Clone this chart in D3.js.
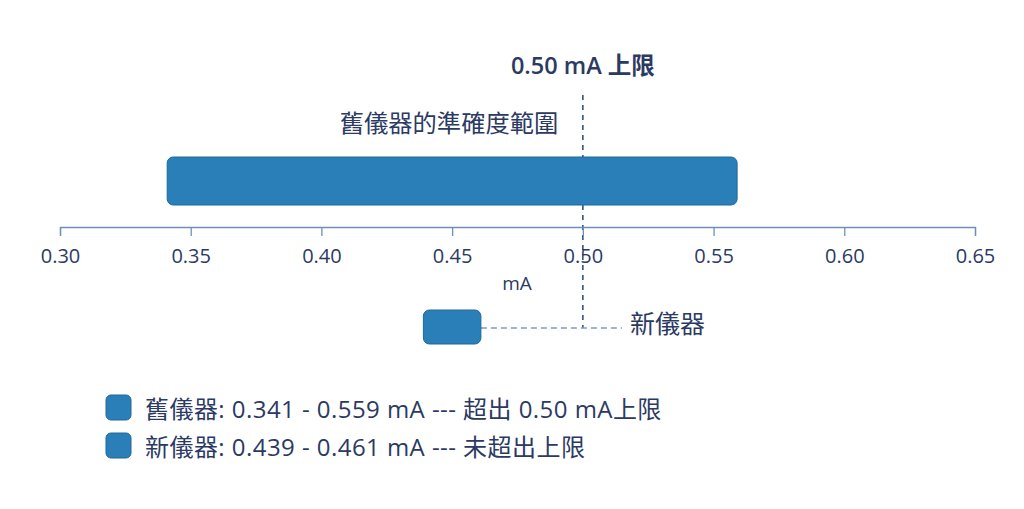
<!DOCTYPE html>
<html>
<head>
<meta charset="utf-8">
<script src="https://cdn.jsdelivr.net/npm/d3@7"></script>
<style>
  body { margin: 0; background: #fff; }
  text { font-family: "Open Sans", "Noto Sans CJK TC", sans-serif; }
</style>
</head>
<body>
<svg id="chart" width="1024" height="509"></svg>
<script>
// data
const instruments = ["舊儀器", "新儀器"];
const lows = [0.341, 0.439];
const highs = [0.559, 0.461];
const limit = 0.5;
const tickValues = [0.30, 0.35, 0.40, 0.45, 0.50, 0.55, 0.60, 0.65];
const legendLabels = [
  "舊儀器: 0.341 - 0.559 mA --- 超出 0.50 mA上限",
  "新儀器: 0.439 - 0.461 mA --- 未超出上限"
];

const ink = "#2b3a63";
const axisColor = "#6f8fb8";
const barFill = "#2a7fb8";
const barStroke = "#1f6899";

const svg = d3.select("#chart");

const x = d3.scaleLinear().domain([0.30, 0.65]).range([60, 975]);
const axisY = 227;

// bars: old one above the axis, new one below
const barRows = [
  { y: 157, h: 48 },
  { y: 310, h: 34 }
];

// limit line
svg.append("line")
  .attr("x1", x(limit)).attr("x2", x(limit))
  .attr("y1", 95).attr("y2", 328)
  .attr("stroke", "#2f5680")
  .attr("stroke-width", 1.6)
  .attr("stroke-dasharray", "5,5");

// axis
const axisG = svg.append("g")
  .attr("transform", `translate(0,${axisY})`)
  .call(d3.axisBottom(x).tickValues(tickValues).tickFormat(d3.format(".2f")).tickSize(9).tickSizeOuter(9));
axisG.select(".domain").attr("stroke", axisColor).attr("stroke-width", 1.3);
axisG.selectAll(".tick line").attr("stroke", axisColor).attr("stroke-width", 1.3);
axisG.selectAll(".tick text")
  .attr("fill", ink)
  .attr("y", 22)
  .style("font-size", "20px");

svg.append("text")
  .attr("x", 517).attr("y", 290)
  .attr("text-anchor", "middle")
  .attr("fill", ink)
  .style("font-size", "19px")
  .text("mA");

// connector from new bar to its label
svg.append("line")
  .attr("x1", x(highs[1])).attr("x2", 622)
  .attr("y1", 328).attr("y2", 328)
  .attr("stroke", "#7d9cc4")
  .attr("stroke-width", 1.3)
  .attr("stroke-dasharray", "6,4");

// bars
svg.selectAll(".bar")
  .data(instruments)
  .join("rect")
  .attr("class", "bar")
  .attr("x", (d, i) => x(lows[i]))
  .attr("width", (d, i) => x(highs[i]) - x(lows[i]))
  .attr("y", (d, i) => barRows[i].y)
  .attr("height", (d, i) => barRows[i].h)
  .attr("rx", 6)
  .attr("fill", barFill)
  .attr("stroke", barStroke)
  .attr("stroke-width", 1);

// labels
svg.append("text")
  .attr("x", x(limit)).attr("y", 74)
  .attr("text-anchor", "middle")
  .attr("fill", ink)
  .style("font-size", "23.5px")
  .style("font-weight", "600")
  .text("0.50 mA 上限");

svg.append("text")
  .attr("x", 449).attr("y", 132)
  .attr("text-anchor", "middle")
  .attr("fill", ink)
  .style("font-size", "24.3px")
  .text("舊儀器的準確度範圍");

svg.append("text")
  .attr("x", 630).attr("y", 333)
  .attr("fill", ink)
  .style("font-size", "25px")
  .text(instruments[1]);

// legend
const legend = svg.selectAll(".legend")
  .data(legendLabels)
  .join("g")
  .attr("class", "legend")
  .attr("transform", (d, i) => `translate(106,${395 + i * 38})`);

legend.append("rect")
  .attr("width", 25).attr("height", 25)
  .attr("rx", 5)
  .attr("fill", barFill)
  .attr("stroke", barStroke);

legend.append("text")
  .attr("x", 39).attr("y", 23)
  .attr("fill", ink)
  .style("font-size", "24px")
  .style("letter-spacing", "0.45px")
  .text(d => d);
</script>
</body>
</html>
